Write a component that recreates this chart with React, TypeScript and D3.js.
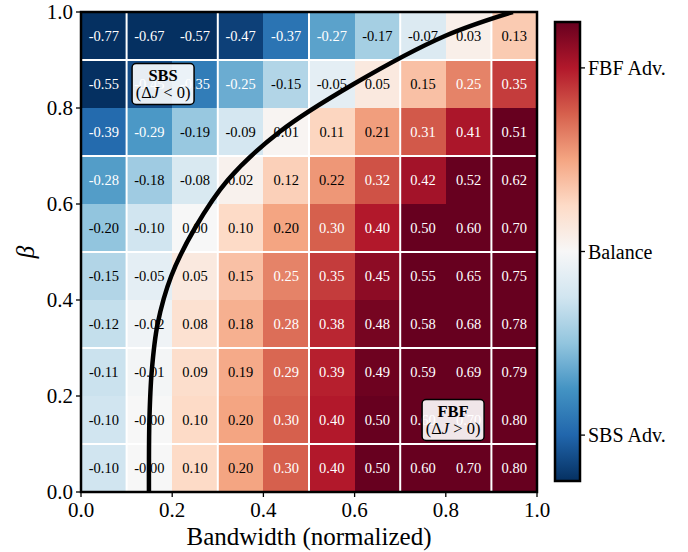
import * as d3 from "d3";
import { useEffect, useRef } from "react";

// bandwidth columns (cell centres) and beta rows, top row first
const bandwidths = [0.05, 0.15, 0.25, 0.35, 0.45, 0.55, 0.65, 0.75, 0.85, 0.95];
const betas = [0.95, 0.85, 0.75, 0.65, 0.55, 0.45, 0.35, 0.25, 0.15, 0.05];

// ΔJ per cell, one array per beta row (top -> bottom)
const row95 = [-0.77, -0.67, -0.57, -0.47, -0.37, -0.27, -0.17, -0.07, 0.03, 0.13];
const row85 = [-0.55, -0.45, -0.35, -0.25, -0.15, -0.05, 0.05, 0.15, 0.25, 0.35];
const row75 = [-0.39, -0.29, -0.19, -0.09, 0.01, 0.11, 0.21, 0.31, 0.41, 0.51];
const row65 = [-0.28, -0.18, -0.08, 0.02, 0.12, 0.22, 0.32, 0.42, 0.52, 0.62];
const row55 = [-0.2, -0.1, 0.0, 0.1, 0.2, 0.3, 0.4, 0.5, 0.6, 0.7];
const row45 = [-0.15, -0.05, 0.05, 0.15, 0.25, 0.35, 0.45, 0.55, 0.65, 0.75];
const row35 = [-0.12, -0.02, 0.08, 0.18, 0.28, 0.38, 0.48, 0.58, 0.68, 0.78];
const row25 = [-0.11, -0.01, 0.09, 0.19, 0.29, 0.39, 0.49, 0.59, 0.69, 0.79];
const row15 = [-0.1, -0.001, 0.1, 0.2, 0.3, 0.4, 0.5, 0.6, 0.7, 0.8];
const row05 = [-0.1, -0.001, 0.1, 0.2, 0.3, 0.4, 0.5, 0.6, 0.7, 0.8];
const rows = [row95, row85, row75, row65, row55, row45, row35, row25, row15, row05];

// boundary curve ΔJ = 0 (at each row centre)
const curveBw = [0.149, 0.149, 0.15, 0.155, 0.168, 0.198, 0.25, 0.322, 0.435, 0.598, 0.798, 0.947];
const curveBeta = [0.0, 0.05, 0.15, 0.25, 0.35, 0.45, 0.55, 0.65, 0.75, 0.85, 0.95, 1.0];

// white separators
const gridLines = [0.1, 0.3, 0.5, 0.7, 0.9];

const ticks = [0, 0.2, 0.4, 0.6, 0.8, 1.0];
const cbarTicks = [-0.4, 0, 0.4];
const cbarLabels = ["SBS Adv.", "Balance", "FBF Adv."];

const FONT = "Liberation Serif, Times New Roman, Times, serif";

function App() {
  const ref = useRef<SVGSVGElement>(null);

  useEffect(() => {
    const svg = d3.select(ref.current);
    svg.selectAll("*").remove();

    const left = 81, right = 537, top = 12, bottom = 492;
    const x = d3.scaleLinear().domain([0, 1]).range([left, right]);
    const y = d3.scaleLinear().domain([0, 1]).range([bottom, top]);

    const rdbu = d3.schemeRdBu[11].slice().reverse();
    const interp = d3.piecewise(d3.interpolateRgb, rdbu);
    const color = (v: number) => interp(Math.max(0, Math.min(1, (v + 0.5) / 1.0)));

    const cells: { bw: number; b: number; v: number }[] = [];
    rows.forEach((r, i) => r.forEach((v, j) => cells.push({ bw: bandwidths[j], b: betas[i], v })));

    const g = svg.append("g");
    g.selectAll("rect.cell").data(cells).join("rect").attr("class", "cell")
      .attr("x", d => x(d.bw - 0.05)).attr("y", d => y(d.b + 0.05))
      .attr("width", x(0.1) - x(0)).attr("height", y(0) - y(0.1) + 0.5)
      .attr("fill", d => color(d.v)).attr("shape-rendering", "crispEdges");

    // white separators
    g.selectAll("line.vg").data(gridLines).join("line").attr("class", "vg")
      .attr("x1", d => x(d)).attr("x2", d => x(d)).attr("y1", top).attr("y2", bottom)
      .attr("stroke", "white").attr("stroke-width", 2);
    g.selectAll("line.hg").data(gridLines).join("line").attr("class", "hg")
      .attr("y1", d => y(d)).attr("y2", d => y(d)).attr("x1", left).attr("x2", right)
      .attr("stroke", "white").attr("stroke-width", 2);

    g.selectAll("text.val").data(cells).join("text").attr("class", "val")
      .attr("x", d => x(d.bw)).attr("y", d => y(d.b)).attr("dy", "0.35em")
      .attr("text-anchor", "middle").style("font-family", FONT).attr("font-size", 14.5)
      .attr("fill", d => (Math.abs(d.v) > 0.235 ? "white" : "black"))
      .text(d => d.v.toFixed(2));

    // boundary curve
    svg.append("clipPath").attr("id", "clip").append("rect")
      .attr("x", left).attr("y", top).attr("width", right - left).attr("height", bottom - top);
    const line = d3.line<number>().x((_, i) => x(curveBw[i])).y((_, i) => y(curveBeta[i])).curve(d3.curveCatmullRom.alpha(0.5));
    svg.append("path").attr("d", line(curveBw)).attr("fill", "none").attr("stroke", "black")
      .attr("stroke-width", 4.5).attr("clip-path", "url(#clip)");

    // frame
    svg.append("rect").attr("x", left).attr("y", top).attr("width", right - left).attr("height", bottom - top)
      .attr("fill", "none").attr("stroke", "black").attr("stroke-width", 2.5);

    // axes
    const xa = svg.append("g");
    ticks.forEach(t => {
      xa.append("line").attr("x1", x(t)).attr("x2", x(t)).attr("y1", bottom).attr("y2", bottom + 5).attr("stroke", "black").attr("stroke-width", 1.3);
      xa.append("text").attr("x", x(t)).attr("y", bottom + 25).attr("text-anchor", "middle")
        .style("font-family", FONT).attr("font-size", 21).text(t.toFixed(1));
      xa.append("line").attr("y1", y(t)).attr("y2", y(t)).attr("x1", left - 5).attr("x2", left).attr("stroke", "black").attr("stroke-width", 1.3);
      xa.append("text").attr("x", left - 8).attr("y", y(t)).attr("dy", "0.35em").attr("text-anchor", "end")
        .style("font-family", FONT).attr("font-size", 21).text(t.toFixed(1));
    });
    svg.append("text").attr("x", (left + right) / 2).attr("y", 545).attr("text-anchor", "middle")
      .style("font-family", FONT).attr("font-size", 25).text("Bandwidth (normalized)");
    svg.append("text").attr("transform", `translate(34, ${(top + bottom) / 2}) rotate(-90)`)
      .attr("text-anchor", "middle").style("font-family", FONT).attr("font-size", 25).attr("font-style", "italic").text("β");

    // annotation boxes
    const annot = (cx: number, cy: number, title: string, sign: string) => {
      const a = svg.append("g").attr("transform", `translate(${x(cx)}, ${y(cy)})`);
      a.append("rect").attr("x", -31).attr("y", -20.5).attr("width", 62).attr("height", 41).attr("rx", 4)
        .attr("fill", "white").attr("fill-opacity", 0.9).attr("stroke", "black").attr("stroke-width", 1.5);
      a.append("text").attr("y", -3).attr("text-anchor", "middle").style("font-family", FONT)
        .attr("font-size", 16.5).attr("font-weight", "bold").text(title);
      const t = a.append("text").attr("y", 14).attr("text-anchor", "middle").style("font-family", FONT).attr("font-size", 16.5);
      t.append("tspan").text("(Δ");
      t.append("tspan").attr("font-style", "italic").text("J");
      t.append("tspan").text(` ${sign} 0)`);
    };
    annot(0.18, 0.85, "SBS", "<");
    annot(0.816, 0.15, "FBF", ">");

    // colorbar
    const cx0 = 555, cw = 25, cTop = 22, cBot = 481;
    const cy = d3.scaleLinear().domain([-0.5, 0.5]).range([cBot, cTop]);
    const grad = svg.append("defs").append("linearGradient").attr("id", "cbar")
      .attr("x1", 0).attr("x2", 0).attr("y1", 1).attr("y2", 0);
    d3.range(0, 1.0001, 0.05).forEach(s => {
      grad.append("stop").attr("offset", s).attr("stop-color", interp(s));
    });
    svg.append("rect").attr("x", cx0).attr("y", cTop).attr("width", cw).attr("height", cBot - cTop)
      .attr("fill", "url(#cbar)").attr("stroke", "black").attr("stroke-width", 2.5);
    cbarTicks.forEach((t, i) => {
      svg.append("line").attr("x1", cx0 + cw).attr("x2", cx0 + cw + 5).attr("y1", cy(t)).attr("y2", cy(t))
        .attr("stroke", "black").attr("stroke-width", 1.3);
      svg.append("text").attr("x", cx0 + cw + 8).attr("y", cy(t)).attr("dy", "0.35em")
        .style("font-family", FONT).attr("font-size", 20).text(cbarLabels[i]);
    });

    return () => {
      svg.selectAll("*").remove();
    };
  }, []);

  return (
    <div style={{ position: "absolute", left: 0, top: 0 }}>
      <svg ref={ref} width={688} height={552} style={{ background: "white" }}></svg>
    </div>
  );
}

export default App;
